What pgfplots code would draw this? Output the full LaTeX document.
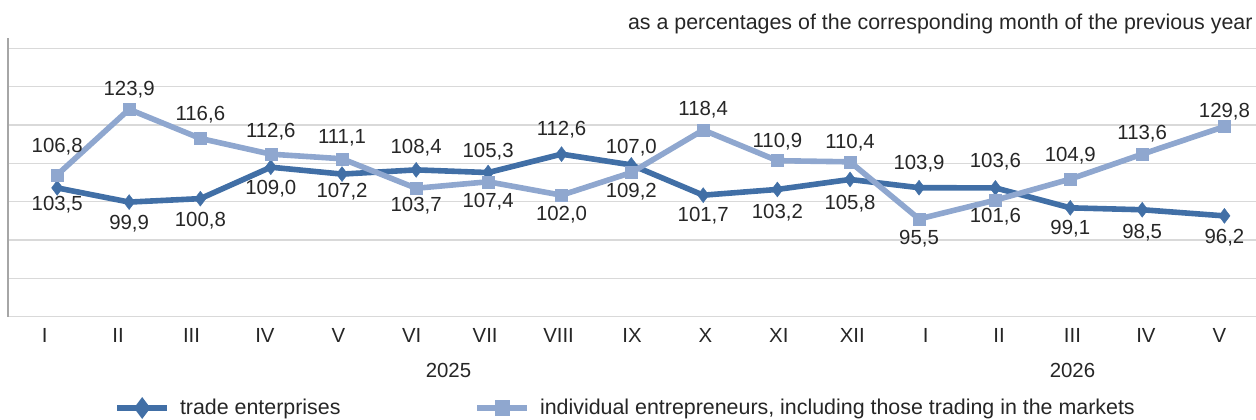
\documentclass[border=0pt]{standalone}
\usepackage{fontspec}
\setmainfont{Liberation Sans}
\usepackage{pgfplots}
\usepackage{pgfplotstable}
\pgfplotsset{compat=1.18}
\definecolor{darkb}{HTML}{416FA6}
\definecolor{lightb}{HTML}{8FA7CF}
\definecolor{gridc}{HTML}{D9D9D9}
\definecolor{axisc}{HTML}{A6A6A6}
\definecolor{txt}{HTML}{262626}

\pgfplotstableread{
x y label shift
0.17 103.6 103,5 -8.2
1.15 99.9 99,9 -10.7
2.12 100.8 100,8 -11
3.08 109.0 109,0 -10.7
4.05 107.2 107,2 -8.8
5.06 108.3 108,4 11.3
6.04 107.6 105,3 10.2
7.04 112.4 112,6 12
7.99 109.6 107,0 8.8
8.97 101.7 101,7 -10.3
9.98 103.2 103,2 -11.5
10.97 105.8 105,8 -12
11.91 103.65 103,9 11.8
12.95 103.6 103,6 13
13.97 98.4 99,1 -10.3
14.95 97.9 98,5 -11.3
16.07 96.3 96,2 -11
}\trade

\pgfplotstableread{
x y label shift
0.17 107.0 106,8 14
1.15 124.1 123,9 10
2.12 116.5 116,6 11.7
3.08 112.4 112,6 11.2
4.05 111.2 111,1 10.5
5.06 103.5 103,7 -8.7
6.04 105.2 107,4 -10
7.04 101.7 102,0 -10
7.99 107.6 109,2 -9.8
8.97 118.7 118,4 10
9.98 110.7 110,9 9.5
10.97 110.4 110,4 9.5
11.91 95.5 95,5 -10
12.95 100.4 101,6 -8.3
13.97 105.9 104,9 11.5
14.95 112.4 113,6 10.2
16.07 119.6 129,8 7.2
}\indiv

\begin{document}
\begin{tikzpicture}[font=\fontsize{10.2}{12}\selectfont, text=txt]
\path[use as bounding box] (-4pt,-51.15pt) rectangle (624pt,158.35pt);
\begin{axis}[
  at={(0,0)}, anchor=south west,
  scale only axis, width=624pt, height=139.35pt,
  xmin=-0.5, xmax=16.5, ymin=70, ymax=142.7,
  axis line style={draw=none},
  ytick={70,80,...,140}, yticklabels={},
  ymajorgrids, grid style={gridc, line width=0.75pt},
  xtick={0,...,16},
  xticklabels={I,II,III,IV,V,VI,VII,VIII,IX,X,XI,XII,I,II,III,IV,V},
  major tick length=0pt,
  xticklabel style={anchor=center, yshift=-9.15pt, text=txt, inner sep=0pt},
  clip=false,
  legend columns=2,
  legend style={draw=none, fill=none, at={(0,0)}, anchor=west,
    xshift=53pt, yshift=-45.65pt, inner sep=0pt, outer sep=0pt,
    nodes={inner sep=0pt, anchor=west, text=txt, font=\fontsize{10.7}{12}\selectfont},
    column sep=0pt, row sep=0pt},
  legend image code/.code={
    \draw[#1, line width=3.2pt, mark repeat=2, mark phase=2, mark options={scale=0.75}]
      plot coordinates {(0pt,0pt) (12.5pt,0pt) (25pt,0pt)};
    \path (30pt,0pt);
  },
  nodes near coords, point meta=explicit symbolic,
  visualization depends on={\thisrow{shift} \as \lshift},
  every node near coord/.append style={anchor=center, yshift=\lshift*1pt,
    inner sep=0pt, text=txt, font=\fontsize{10.2}{12}\selectfont},
]
\addplot[darkb, line width=2.8pt, mark=diamond*, mark size=3.75pt,
  mark options={solid, line width=0.2pt, fill=darkb, draw=darkb}]
  table[x=x, y=y, meta=label]{\trade};
\addlegendentry{\makebox[147pt][l]{trade enterprises}}
\addplot[lightb, line width=2.8pt, mark=square*, mark size=3pt,
  mark options={solid, line width=0.2pt, fill=lightb, draw=lightb}]
  table[x=x, y=y, meta=label]{\indiv};
\addlegendentry{individual entrepreneurs, including those trading in the markets}
\draw[axisc, line width=0.65pt] (rel axis cs:0,0) -- (rel axis cs:0,1);
\node[anchor=center, text=txt] at (axis cs:5.5,70) [yshift=-26.65pt] {2025};
\node[anchor=center, text=txt] at (axis cs:14,70) [yshift=-26.65pt] {2026};
\node[anchor=east, inner sep=0pt, text=txt, font=\fontsize{10.7}{12}\selectfont]
  at (rel axis cs:1,1) [xshift=-1.5pt, yshift=7pt]
  {as a percentages of the corresponding month of the previous year};
\end{axis}
\end{tikzpicture}
\end{document}
